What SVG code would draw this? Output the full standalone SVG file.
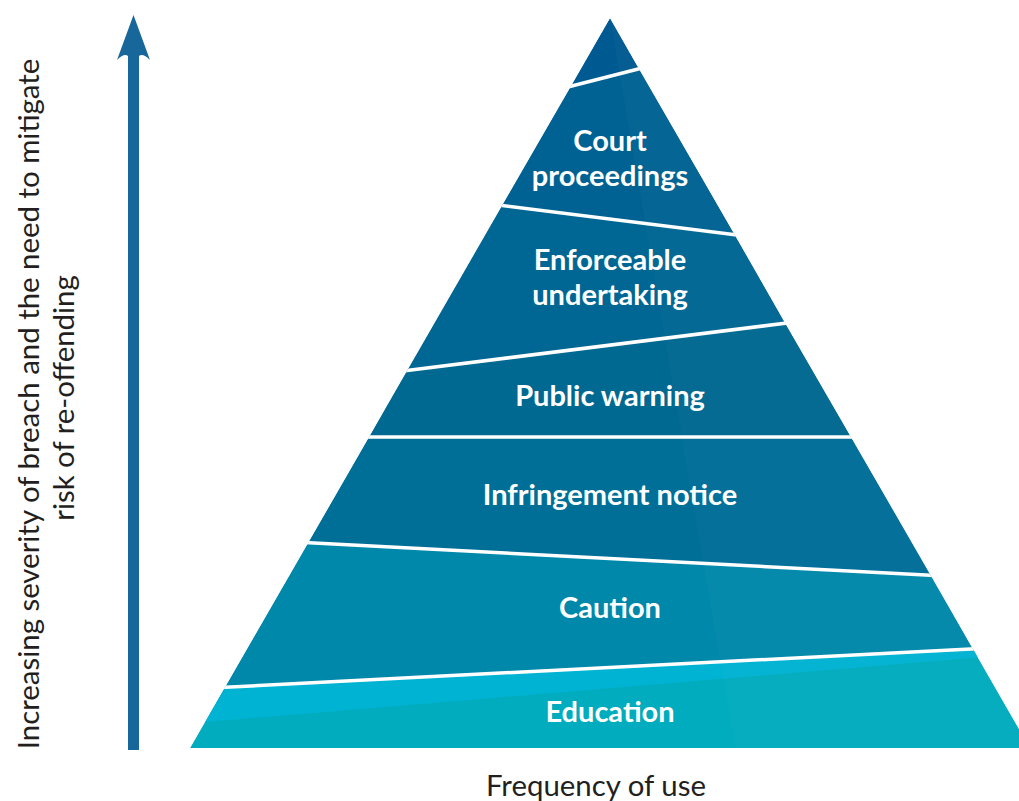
<svg xmlns="http://www.w3.org/2000/svg" width="1019" height="801" viewBox="0 0 1019 801">
  <defs>
    <style>
      .lbl { font-family: Lato, "Open Sans", sans-serif; font-weight: 700; font-size: 29px; fill: #ffffff; text-anchor: middle; }
      .axis { font-family: Lato, "Open Sans", sans-serif; font-weight: 400; font-size: 29.4px; fill: #231f20; text-anchor: middle; }
      .sep { stroke: #ffffff; stroke-width: 3.5; fill: none; }
    </style>
    <clipPath id="pyr">
      <polygon points="610,18 190,748 1030,748"/>
    </clipPath>
  </defs>
  <rect width="1019" height="801" fill="#ffffff"/>

  <g id="pyramid" clip-path="url(#pyr)">
    <g id="band-top"><polygon points="610,18 571,86 639,69" fill="#005A92"/></g>
    <g id="band-court"><polygon points="571,86 639,69 735,235 502,205" fill="#006292"/>
      <text class="lbl" x="610" y="151">Court</text>
      <text class="lbl" x="610" y="186">proceedings</text></g>
    <g id="band-enforceable"><polygon points="502,205 735,235 785,323 407,370" fill="#006693"/>
      <text class="lbl" x="610" y="270">Enforceable</text>
      <text class="lbl" x="610" y="305">undertaking</text></g>
    <g id="band-public"><polygon points="407,370 785,323 851,437 369,437" fill="#006991"/>
      <text class="lbl" x="610" y="406">Public warning</text></g>
    <g id="band-infringement"><polygon points="369,437 851,437 931,575 308,543" fill="#006F98"/>
      <text class="lbl" x="610" y="505">Infringement notice</text></g>
    <g id="band-caution"><polygon points="308,543 931,575 973,649 225,687" fill="#0088AA"/>
      <text class="lbl" x="610" y="618">Caution</text></g>
    <g id="band-education"><polygon points="225,687 973,649 1030,748 190,748" fill="#00ACBD"/>
      <polygon points="225,687 973,649 1006,655 205,722" fill="#00B3D3"/>
      <text class="lbl" x="610" y="722">Education</text></g>
    <polygon points="610,18 1040,18 1040,748 735,748" fill="#ffffff" opacity="0.02"/>
    <line class="sep" x1="560" y1="89" x2="650" y2="66"/>
    <line class="sep" x1="490" y1="204" x2="745" y2="236"/>
    <line class="sep" x1="395" y1="372" x2="795" y2="322"/>
    <line class="sep" x1="355" y1="437" x2="865" y2="437"/>
    <line class="sep" x1="295" y1="542" x2="945" y2="576"/>
    <line class="sep" x1="210" y1="688" x2="990" y2="648"/>
  </g>

  <g id="axis-arrow">
    <path d="M133.5,15 L150,60 Q143,53 139,56 L139,750 L128,750 L128,56 Q124,53 117,60 Z" fill="#17679B"/>
  </g>
  <g id="axis-labels">
    <text class="axis" transform="translate(39,404) rotate(-90)">Increasing severity of breach and the need to mitigate</text>
    <text class="axis" transform="translate(74,398) rotate(-90)">risk of re-offending</text>
    <text class="axis" x="596" y="796">Frequency of use</text>
  </g>
</svg>
